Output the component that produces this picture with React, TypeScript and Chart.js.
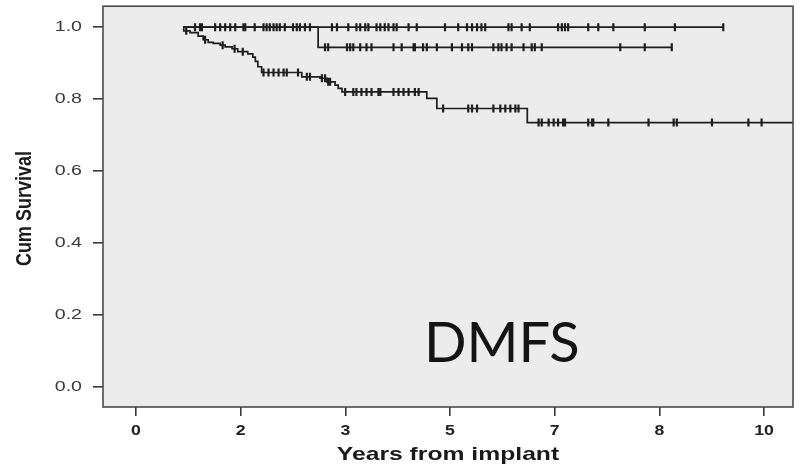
import React, { useEffect, useRef } from "react";
import { Chart, registerables } from "chart.js";

Chart.register(...registerables);

// Kaplan–Meier curves (time in years, cumulative survival after each step)
const TOP_TIMES = [0.75, 9.35];
const TOP_SURV = [1, 1];

const MID_TIMES = [0.75, 2.9, 8.53];
const MID_SURV = [1, 0.944, 0.944];

const LOW_TIMES = [
  0.75, 0.76, 0.86, 0.99, 1.07, 1.15, 1.23, 1.34, 1.42, 1.53, 1.62, 1.78, 1.86,
  1.9, 1.94, 2.0, 2.64, 2.93, 3.04, 3.17, 3.22, 3.28, 4.63, 4.79, 6.23, 10.46,
];
const LOW_SURV = [
  1, 0.99, 0.985, 0.975, 0.965, 0.958, 0.955, 0.95, 0.945, 0.94, 0.932, 0.926,
  0.917, 0.905, 0.89, 0.874, 0.862, 0.858, 0.848, 0.839, 0.83, 0.82, 0.802,
  0.774, 0.735, 0.735,
];

// Censored observations (years)
const TOP_CENSORED = [
  0.94, 1.02, 1.05, 1.26, 1.34, 1.42, 1.5, 1.58, 1.71, 1.74, 1.89, 2.03, 2.08,
  2.13, 2.19, 2.24, 2.29, 2.37, 2.5, 2.56, 2.61, 2.69, 2.77, 3.12, 3.2, 3.38,
  3.51, 3.57, 3.65, 3.7, 3.83, 3.89, 3.96, 4.02, 4.1, 4.15, 4.34, 4.47, 4.92,
  5.13, 5.27, 5.35, 5.43, 5.5, 5.56, 5.93, 5.98, 6.14, 6.27, 6.72, 6.78, 6.83,
  6.88, 7.2, 7.36, 7.6, 8.1, 8.58, 9.35,
];
const MID_CENSORED = [
  3.01, 3.06, 3.36, 3.41, 3.46, 3.57, 3.67, 3.75, 4.1, 4.23, 4.42, 4.44, 4.57,
  4.63, 4.79, 5.03, 5.19, 5.29, 5.35, 5.69, 5.77, 5.82, 5.9, 5.98, 6.17, 6.3,
  6.35, 6.46, 7.71, 8.1, 8.53,
];
const LOW_CENSORED = [
  0.8, 1.1, 1.38, 1.57, 1.7, 2.03, 2.11, 2.19, 2.27, 2.35, 2.4, 2.58, 2.72,
  2.77, 2.96, 3.01, 3.06, 3.09, 3.33, 3.46, 3.51, 3.59, 3.67, 3.75, 3.86, 3.89,
  4.1, 4.18, 4.26, 4.34, 4.44, 4.5, 4.89, 5.29, 5.35, 5.43, 5.69, 5.8, 5.88,
  5.96, 6.04, 6.09, 6.41, 6.46, 6.57, 6.65, 6.72, 6.8, 6.83, 7.2, 7.26, 7.28,
  7.52, 8.16, 8.56, 8.61, 9.17, 9.75, 9.96,
];

// Axis ticks: x ticks every 20 months, labelled in whole years
const X_TICK_MONTHS = [0, 20, 40, 60, 80, 100, 120];
const X_TICK_LABELS = ["0", "2", "3", "5", "7", "8", "10"];
const Y_TICKS = [0, 0.2, 0.4, 0.6, 0.8, 1.0];

const X_TITLE = "Years from implant";
const Y_TITLE = "Cum Survival";
const PANEL_LABEL = "DMFS";

const INK = "#1e1e1e";

function survivalAt(times: number[], surv: number[], t: number): number {
  let v = surv[0];
  for (let i = 0; i < times.length; i++) {
    if (times[i] <= t) v = surv[i];
    else break;
  }
  return v;
}

function curvePoints(times: number[], surv: number[]) {
  return times.map((t, i) => ({ x: t, y: surv[i] }));
}

function censorPoints(times: number[], surv: number[], cens: number[]) {
  return cens.map((t) => ({ x: t, y: survivalAt(times, surv, t) }));
}

function stretchedText(
  ctx: CanvasRenderingContext2D,
  text: string,
  x: number,
  y: number,
  font: string,
  sx: number,
  align: CanvasTextAlign,
  rotate = 0
) {
  ctx.save();
  ctx.translate(x, y);
  ctx.scale(sx, 1);
  if (rotate) ctx.rotate(rotate);
  ctx.font = font;
  ctx.textAlign = align;
  ctx.textBaseline = "middle";
  ctx.fillText(text, 0, 0);
  ctx.restore();
}

const framePlugin = {
  id: "kmFrame",
  beforeDraw(chart: any) {
    const { ctx, chartArea: a } = chart;
    ctx.save();
    ctx.fillStyle = "#ffffff";
    ctx.fillRect(0, 0, chart.width, chart.height);
    ctx.fillStyle = "#ececec";
    ctx.fillRect(a.left, a.top, a.right - a.left, a.bottom - a.top);
    ctx.restore();
  },
  afterDraw(chart: any) {
    const { ctx, chartArea: a, scales } = chart;
    ctx.save();
    ctx.strokeStyle = "#4a4a4a";
    ctx.lineWidth = 1.6;
    ctx.strokeRect(a.left, a.top, a.right - a.left, a.bottom - a.top);

    // y tick labels
    ctx.fillStyle = "#3a3a3a";
    scales.y.ticks.forEach((t: any) => {
      const py = scales.y.getPixelForValue(t.value);
      stretchedText(ctx, t.value.toFixed(1), 82, py, "14px 'Liberation Sans', Arial, sans-serif", 1.4, "right");
    });

    // x tick labels
    ctx.fillStyle = "#222222";
    scales.x.ticks.forEach((t: any, i: number) => {
      const px = scales.x.getPixelForValue(t.value);
      stretchedText(ctx, X_TICK_LABELS[i], px, a.bottom + 24, "bold 15px 'Liberation Sans', Arial, sans-serif", 1.18, "center");
    });

    // axis titles
    ctx.fillStyle = "#1a1a1a";
    stretchedText(ctx, X_TITLE, (a.left + a.right) / 2, a.bottom + 48, "bold 19px 'Liberation Sans', Arial, sans-serif", 1.3, "center");
    stretchedText(ctx, Y_TITLE, 25, (a.top + a.bottom) / 2 + 2, "bold 18px 'Liberation Sans', Arial, sans-serif", 1.25, "center", -Math.PI / 2);

    // panel label
    ctx.fillStyle = "#141414";
    ctx.font = "56px Lato, 'Open Sans', sans-serif";
    ctx.textAlign = "left";
    ctx.textBaseline = "alphabetic";
    ctx.fillText(PANEL_LABEL, 424, 362);
    ctx.restore();
  },
};

export default function App() {
  const canvasRef = useRef<HTMLCanvasElement | null>(null);

  useEffect(() => {
    document.body.style.margin = "0";
    const canvas = canvasRef.current;
    if (!canvas) return;

    const lineStyle = {
      showLine: true,
      stepped: "before" as const,
      borderColor: INK,
      borderWidth: 1.7,
      pointRadius: 0,
      pointHoverRadius: 0,
      fill: false,
    };
    const censorStyle = {
      showLine: false,
      pointStyle: "line" as const,
      rotation: 90,
      pointRadius: 4,
      pointBorderWidth: 2.2,
      pointBorderColor: INK,
      pointBackgroundColor: INK,
      borderColor: INK,
    };

    const chart = new Chart(canvas, {
      type: "scatter",
      data: {
        datasets: [
          { ...lineStyle, data: curvePoints(LOW_TIMES, LOW_SURV) },
          { ...lineStyle, data: curvePoints(MID_TIMES, MID_SURV) },
          { ...lineStyle, data: curvePoints(TOP_TIMES, TOP_SURV) },
          { ...censorStyle, data: censorPoints(LOW_TIMES, LOW_SURV, LOW_CENSORED) },
          { ...censorStyle, data: censorPoints(MID_TIMES, MID_SURV, MID_CENSORED) },
          { ...censorStyle, data: censorPoints(TOP_TIMES, TOP_SURV, TOP_CENSORED) },
        ] as any,
      },
      options: {
        animation: false,
        responsive: false,
        events: [],
        layout: { padding: { top: 6, right: 7, left: 0, bottom: 0 } },
        plugins: {
          legend: { display: false },
          tooltip: { enabled: false },
        },
        scales: {
          x: {
            type: "linear",
            min: -0.525,
            max: 10.46,
            afterBuildTicks: (s: any) => {
              s.ticks = X_TICK_MONTHS.map((m) => ({ value: m / 12 }));
            },
            afterFit: (s: any) => {
              s.height = 60;
            },
            ticks: { display: false },
            grid: {
              drawOnChartArea: false,
              drawTicks: true,
              tickLength: 9,
              color: "#3a3a3a",
              lineWidth: 1.6,
            },
            border: { display: false },
          },
          y: {
            type: "linear",
            min: -0.0556,
            max: 1.0583,
            afterBuildTicks: (s: any) => {
              s.ticks = Y_TICKS.map((v) => ({ value: v }));
            },
            afterFit: (s: any) => {
              s.width = 103;
            },
            ticks: { display: false },
            grid: {
              drawOnChartArea: false,
              drawTicks: true,
              tickLength: 10,
              color: "#3a3a3a",
              lineWidth: 1.6,
            },
            border: { display: false },
          },
        },
      },
      plugins: [framePlugin],
    });

    return () => chart.destroy();
  }, []);

  return (
    <div style={{ width: 800, height: 467, position: "relative" }}>
      <canvas ref={canvasRef} width={800} height={467} />
    </div>
  );
}
